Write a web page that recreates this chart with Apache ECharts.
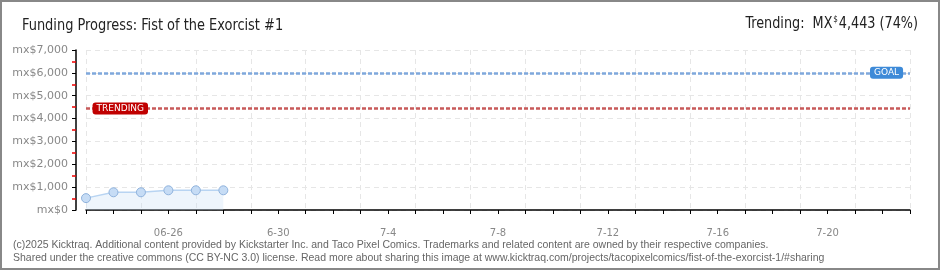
<!DOCTYPE html>
<html><head><meta charset="utf-8">
<script src="https://cdn.jsdelivr.net/npm/echarts@6/dist/echarts.min.js"></script>
<style>html,body{margin:0;padding:0;background:#fff}#c{width:940px;height:270px}</style>
</head><body><div id="c"></div>
<script>
const categories = ["06-23","06-24","06-25","06-26","06-27","06-28","06-29","06-30","07-01","07-02","07-03","07-04","07-05","07-06","07-07","07-08","07-09","07-10","07-11","07-12","07-13","07-14","07-15","07-16","07-17","07-18","07-19","07-20","07-21","07-22","07-23"];
const pledged = [520, 775, 775, 862, 862, 862];
const tickCats = ["06-26","06-30","07-04","07-08","07-12","07-16","07-20"];
const tickLabels = ["06-26","6-30","7-4","7-8","7-12","7-16","7-20"];
const goal = 6000;
const trending = 4443;
const yTicks = [0,1000,2000,3000,4000,5000,6000,7000];
const yTickLabels = ["mx$0","mx$1,000","mx$2,000","mx$3,000","mx$4,000","mx$5,000","mx$6,000","mx$7,000"];

const labelMap = {}; tickCats.forEach((c,i)=>labelMap[c]=tickLabels[i]);
const yMap = {}; yTicks.forEach((v,i)=>yMap[v]=yTickLabels[i]);
const chart = echarts.init(document.getElementById('c'));
const font = "'DejaVu Sans', sans-serif";
const tfont = "'DejaVu Sans Condensed','DejaVu Sans',sans-serif";
chart.setOption({
  animation:false,
  title:[
    {text:"(c)2025 Kicktraq. Additional content provided by Kickstarter Inc. and Taco Pixel Comics. Trademarks and related content are owned by their respective companies.\nShared under the creative commons (CC BY-NC 3.0) license. Read more about sharing this image at www.kicktraq.com/projects/tacopixelcomics/fist-of-the-exorcist-1/#sharing",
     left:8, top:234, textStyle:{fontFamily:"'Liberation Sans Narrow',sans-serif", fontSize:10.5, fontWeight:'normal', color:'#666', lineHeight:13}}
  ],
  graphic:[
    {type:'rect', shape:{x:1,y:1,width:938,height:268}, style:{fill:'none', stroke:'#888', lineWidth:2}, silent:true},
    {type:'text', x:20, y:34, scaleX:0.9, originX:20, originY:34,
     style:{text:"Funding Progress: Fist of the Exorcist #1", font:"16px "+tfont, fill:'#222', verticalAlign:'bottom', textVerticalAlign:'bottom'}},
    {type:'text', right:22, top:15, scaleX:0.89,
     style:{text:"Trending:  MX{s|$}4,443 (74%)", font:"16px "+tfont, fill:'#222',
       rich:{s:{fontSize:9, verticalAlign:'top', padding:[0,1,9,1], fontFamily:tfont, fill:'#222'}}}}
  ],
  grid:{left:86, right:30, top:50, bottom:60, containLabel:false, outerBoundsMode:'none'},
  xAxis:{
    type:'category', data:categories, boundaryGap:false, offset:10,
    axisLine:{lineStyle:{color:'#000', width:1.5}},
    axisTick:{interval:0, length:4, lineStyle:{color:'#000'}},
    axisLabel:{interval:0, formatter:v=>labelMap[v]||'', color:'#888', fontFamily:font, fontSize:10, margin:8},
    splitLine:{show:true, interval:(i)=>i%2===0, lineStyle:{color:'#e6e6e6', type:[5,4]}}
  },
  yAxis:{
    type:'value', min:0, max:7000, interval:1000, offset:10,
    name:'PLEDGED', nameLocation:'middle', nameRotate:90, nameGap:66,
    nameTextStyle:{color:'#888', fontFamily:font, fontSize:9},
    axisLine:{show:true, lineStyle:{color:'#000', width:1.5}},
    axisTick:{show:true, length:4, lineStyle:{color:'#000'}},
    minorTick:{show:true, splitNumber:2, length:4, lineStyle:{color:'#e00', width:1.5}},
    axisLabel:{formatter:v=>yMap[v]||'', color:'#888', fontFamily:font, fontSize:11, margin:8},
    splitLine:{show:true, lineStyle:{color:'#e6e6e6', type:[5,4]}}
  },
  series:[{
    type:'line', data:pledged, symbol:'circle', symbolSize:9,
    lineStyle:{color:'#b8d4f2', width:1.5},
    itemStyle:{color:'#c6dcf5', borderColor:'#8fb2dc', borderWidth:1},
    areaStyle:{color:'rgba(200,222,247,0.45)'},
    markLine:{
      symbol:'none', silent:true,
      data:[
        {yAxis:goal, lineStyle:{color:'#7fa8dc', type:[4,2], width:2.5},
         label:{show:true, position:'end', distance:-40, formatter:'GOAL', color:'#fff', backgroundColor:'#3d8ad8', borderRadius:3, padding:[2,4,1,4], fontFamily:font, fontSize:9}},
        {yAxis:trending, lineStyle:{color:'#c85a5a', type:[4,2], width:2.5},
         label:{show:true, position:'start', distance:-62, formatter:'TRENDING', color:'#fff', backgroundColor:'#c00000', borderRadius:3, padding:[2,4,1,4], fontFamily:font, fontSize:9}}
      ]
    }
  }]
});
</script></body></html>
